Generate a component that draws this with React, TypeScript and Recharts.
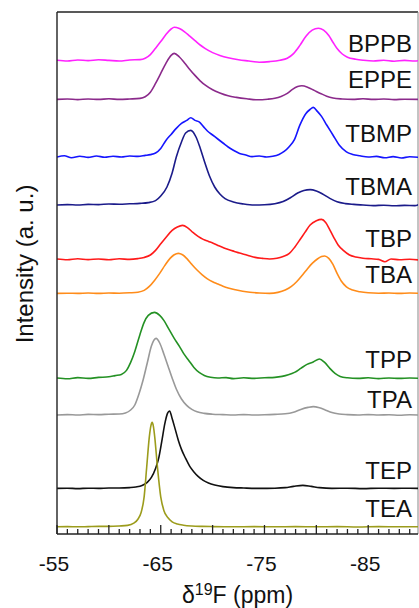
import { LineChart, Line, XAxis, YAxis, ReferenceLine } from 'recharts';

// 19F NMR spectra, stacked. Points are [ppm, intensity above own baseline]
const NAMES = ['BPPB', 'EPPE', 'TBMP', 'TBMA', 'TBP', 'TBA', 'TPP', 'TPA', 'TEP', 'TEA'];
const OFFSETS = [23.67, 21.73, 18.83, 16.45, 13.73, 12.03, 7.78, 5.95, 2.28, 0.36];
const TICK_LABELS = [-55, -65, -75, -85];

const BPPB = [[-55, 0.02], [-56, -0.02], [-57, 0.03], [-58, 0.0], [-59, 0.04], [-60, 0.01], [-61, -0.02], [-62, 0.03], [-63, 0.05], [-63.5, 0.12], [-64, 0.3], [-64.5, 0.62], [-65, 0.95], [-65.5, 1.3], [-66, 1.58], [-66.3, 1.67], [-66.8, 1.6], [-67.3, 1.44], [-67.8, 1.22], [-68.3, 1.0], [-68.8, 0.78], [-69.3, 0.6], [-70, 0.4], [-70.7, 0.26], [-71.5, 0.14], [-72.5, 0.04], [-73.5, -0.02], [-74.5, -0.08], [-75.5, -0.05], [-76.5, 0.02], [-77.2, 0.12], [-77.8, 0.35], [-78.4, 0.75], [-79, 1.22], [-79.6, 1.52], [-80.2, 1.62], [-80.7, 1.52], [-81.2, 1.25], [-81.6, 0.92], [-82, 0.6], [-82.5, 0.33], [-83, 0.17], [-83.8, 0.07], [-84.5, 0.02], [-85.5, -0.02], [-86.5, 0.02], [-87.5, -0.03], [-88.5, 0.01], [-89.5, -0.02], [-90, 0.0]];
const EPPE = [[-55, 0.0], [-56, 0.02], [-57, -0.01], [-58, 0.02], [-59, 0.0], [-60, 0.03], [-61, 0.0], [-62, 0.02], [-63, 0.05], [-63.5, 0.13], [-64, 0.36], [-64.5, 0.8], [-65, 1.3], [-65.5, 1.8], [-66, 2.2], [-66.3, 2.3], [-66.8, 2.12], [-67.3, 1.82], [-67.8, 1.5], [-68.3, 1.2], [-68.8, 0.93], [-69.3, 0.71], [-70, 0.48], [-70.7, 0.32], [-71.5, 0.18], [-72.3, 0.1], [-73.3, 0.03], [-74.3, -0.02], [-75.3, 0.01], [-76, 0.06], [-76.6, 0.15], [-77.2, 0.3], [-77.7, 0.5], [-78.2, 0.64], [-78.6, 0.68], [-79.2, 0.6], [-79.8, 0.45], [-80.4, 0.3], [-81, 0.16], [-81.6, 0.07], [-82.5, 0.02], [-83.5, 0.0], [-84.5, 0.03], [-85.5, 0.0], [-86.5, 0.02], [-87.5, -0.01], [-88.5, 0.01], [-90, 0.0]];
const TBMP = [[-55, 0.02], [-55.7, 0.08], [-56.4, -0.02], [-57.2, 0.06], [-58, 0.0], [-58.8, 0.07], [-59.6, 0.01], [-60.4, 0.06], [-61.2, 0.02], [-62, 0.07], [-62.8, 0.05], [-63.5, 0.1], [-64, 0.14], [-64.5, 0.22], [-65, 0.45], [-65.5, 0.85], [-66, 1.15], [-66.5, 1.45], [-67, 1.7], [-67.5, 1.85], [-67.9, 1.98], [-68.3, 1.85], [-68.7, 1.78], [-69.1, 1.55], [-69.5, 1.32], [-70, 1.12], [-70.5, 0.92], [-71, 0.72], [-71.5, 0.52], [-72, 0.36], [-72.6, 0.2], [-73.2, 0.12], [-73.8, 0.04], [-74.5, 0.07], [-75.2, 0.02], [-75.8, 0.06], [-76.4, 0.15], [-76.9, 0.3], [-77.4, 0.55], [-77.9, 0.9], [-78.4, 1.6], [-79, 2.2], [-79.4, 2.4], [-79.7, 2.5], [-80.1, 2.3], [-80.5, 2.05], [-81, 1.62], [-81.6, 1.12], [-82.2, 0.62], [-82.9, 0.28], [-83.5, 0.15], [-84.2, 0.08], [-85, 0.02], [-85.8, 0.05], [-86.6, -0.02], [-87.4, 0.04], [-88.2, -0.03], [-89, 0.03], [-90, 0.0]];
const TBMA = [[-55, 0.0], [-56, 0.02], [-57, 0.0], [-58, 0.03], [-59, 0.02], [-60, 0.05], [-61, 0.04], [-62, 0.06], [-63, 0.08], [-63.8, 0.12], [-64.5, 0.22], [-65, 0.45], [-65.6, 0.9], [-66.1, 1.6], [-66.5, 2.4], [-67, 3.15], [-67.4, 3.6], [-67.9, 3.73], [-68.4, 3.4], [-68.8, 2.85], [-69.2, 2.2], [-69.7, 1.45], [-70.2, 0.9], [-70.7, 0.55], [-71.2, 0.32], [-72, 0.15], [-73, 0.05], [-74, 0.0], [-75, 0.01], [-76, 0.06], [-76.8, 0.17], [-77.5, 0.36], [-78.2, 0.6], [-78.8, 0.73], [-79.4, 0.77], [-80, 0.7], [-80.6, 0.55], [-81.3, 0.33], [-82, 0.16], [-82.8, 0.07], [-83.6, 0.03], [-84.5, 0.0], [-85.5, -0.03], [-86.5, -0.01], [-87.5, -0.04], [-88.5, -0.02], [-89.5, -0.03], [-90, 0.06]];
const TBP = [[-55, 0.02], [-56, -0.02], [-57, 0.03], [-58, -0.01], [-59, 0.02], [-60, -0.02], [-61, 0.03], [-62, 0.0], [-62.8, 0.04], [-63.4, 0.1], [-64, 0.22], [-64.5, 0.45], [-65, 0.78], [-65.5, 1.1], [-66.1, 1.45], [-66.6, 1.62], [-67.1, 1.7], [-67.6, 1.58], [-68.1, 1.35], [-68.6, 1.15], [-69.1, 1.0], [-69.6, 0.9], [-70.1, 0.8], [-70.6, 0.68], [-71.1, 0.57], [-71.6, 0.48], [-72.1, 0.4], [-72.6, 0.32], [-73.1, 0.25], [-73.6, 0.17], [-74.1, 0.1], [-74.8, 0.05], [-75.5, 0.02], [-76.2, 0.06], [-76.8, 0.15], [-77.4, 0.3], [-77.9, 0.6], [-78.4, 0.97], [-78.9, 1.35], [-79.4, 1.72], [-80, 1.93], [-80.5, 2.0], [-80.9, 1.85], [-81.3, 1.48], [-81.7, 1.08], [-82.1, 0.72], [-82.6, 0.45], [-83.2, 0.22], [-83.8, 0.12], [-84.5, 0.06], [-85.3, 0.03], [-86, 0.0], [-86.6, -0.12], [-87.2, 0.02], [-88, -0.02], [-89, 0.01], [-90, -0.04]];
const TBA = [[-55, 0.0], [-56, 0.01], [-57, 0.0], [-58, 0.02], [-59, 0.0], [-60, 0.02], [-61, 0.01], [-62, 0.03], [-62.8, 0.06], [-63.4, 0.15], [-63.9, 0.35], [-64.4, 0.65], [-64.9, 1.0], [-65.4, 1.4], [-65.9, 1.75], [-66.3, 1.93], [-66.7, 2.0], [-67.1, 1.93], [-67.5, 1.75], [-68, 1.45], [-68.5, 1.17], [-69, 0.93], [-69.5, 0.73], [-70, 0.58], [-70.5, 0.47], [-71, 0.36], [-71.5, 0.27], [-72.2, 0.18], [-72.9, 0.11], [-73.6, 0.06], [-74.5, 0.02], [-75.5, 0.0], [-76.3, 0.05], [-77, 0.17], [-77.6, 0.35], [-78.1, 0.58], [-78.6, 0.88], [-79.1, 1.2], [-79.6, 1.5], [-80.1, 1.72], [-80.5, 1.84], [-80.8, 1.87], [-81.2, 1.75], [-81.6, 1.45], [-82, 1.0], [-82.4, 0.62], [-82.9, 0.33], [-83.5, 0.17], [-84.2, 0.08], [-85, 0.03], [-86, 0.01], [-87, 0.02], [-88, 0.0], [-89, 0.02], [-90, 0.0]];
const TPP = [[-55, 0.02], [-56, -0.02], [-57, 0.04], [-58, 0.0], [-59, 0.05], [-60, 0.08], [-60.6, 0.14], [-61.2, 0.2], [-61.7, 0.4], [-62.1, 0.8], [-62.5, 1.35], [-63, 2.2], [-63.4, 2.8], [-63.8, 3.15], [-64.4, 3.3], [-64.9, 3.15], [-65.3, 2.9], [-65.8, 2.45], [-66.3, 2.0], [-66.8, 1.6], [-67.2, 1.25], [-67.7, 0.9], [-68.2, 0.55], [-68.7, 0.3], [-69.2, 0.15], [-69.8, 0.06], [-70.5, 0.02], [-71.3, 0.04], [-72, -0.01], [-73, 0.03], [-74, 0.0], [-75, 0.03], [-76, 0.05], [-76.7, 0.1], [-77.3, 0.18], [-77.9, 0.3], [-78.5, 0.5], [-79.1, 0.7], [-79.7, 0.82], [-80.3, 0.97], [-80.8, 0.8], [-81.3, 0.5], [-81.8, 0.25], [-82.3, 0.1], [-83, 0.03], [-84, 0.0], [-85, 0.03], [-86, -0.01], [-87, 0.02], [-88, 0.0], [-89, 0.02], [-90, 0.0]];
const TPA = [[-55, 0.0], [-56, 0.02], [-57, 0.0], [-58, 0.03], [-59, 0.02], [-60, 0.04], [-61, 0.05], [-61.6, 0.1], [-62.1, 0.25], [-62.5, 0.5], [-62.9, 1.05], [-63.3, 1.75], [-63.7, 2.6], [-64.1, 3.45], [-64.55, 3.83], [-64.9, 3.6], [-65.3, 3.05], [-65.7, 2.45], [-66.1, 1.85], [-66.5, 1.3], [-67, 0.8], [-67.5, 0.48], [-68, 0.28], [-68.5, 0.16], [-69.2, 0.08], [-70, 0.04], [-71, 0.02], [-72, 0.0], [-73, 0.02], [-74, 0.0], [-75, 0.01], [-76, 0.03], [-77, 0.06], [-77.8, 0.14], [-78.5, 0.28], [-79.2, 0.38], [-79.7, 0.42], [-80.3, 0.36], [-80.9, 0.24], [-81.5, 0.12], [-82.2, 0.05], [-83, 0.02], [-84, 0.0], [-85, 0.02], [-86, 0.0], [-87, 0.01], [-88, -0.01], [-89, 0.01], [-90, 0.0]];
const TEP = [[-55, 0.0], [-56, 0.01], [-57, -0.01], [-58, 0.01], [-59, 0.0], [-60, 0.02], [-61, 0.02], [-62, 0.04], [-62.6, 0.07], [-63.2, 0.14], [-63.7, 0.3], [-64.1, 0.55], [-64.5, 1.0], [-64.8, 1.5], [-65.1, 2.35], [-65.4, 3.25], [-65.65, 3.75], [-65.85, 3.87], [-66.1, 3.5], [-66.4, 2.95], [-66.7, 2.4], [-67, 1.95], [-67.4, 1.5], [-67.8, 1.1], [-68.2, 0.82], [-68.6, 0.6], [-69.1, 0.4], [-69.6, 0.27], [-70.2, 0.17], [-71, 0.09], [-72, 0.04], [-73, 0.02], [-74.5, 0.0], [-76, 0.01], [-77, 0.04], [-77.8, 0.1], [-78.7, 0.15], [-79.5, 0.1], [-80.3, 0.04], [-81.5, 0.0], [-83, 0.01], [-84.5, -0.01], [-86, 0.01], [-87.5, 0.0], [-89, 0.01], [-90, 0.0]];
const TEA = [[-55, 0.0], [-56, 0.01], [-57, 0.0], [-58, 0.01], [-59, 0.02], [-60, 0.02], [-61, 0.04], [-61.8, 0.07], [-62.4, 0.18], [-62.8, 0.38], [-63.1, 0.7], [-63.4, 1.5], [-63.65, 3.0], [-63.9, 4.5], [-64.05, 5.05], [-64.17, 5.22], [-64.3, 5.0], [-64.42, 4.5], [-64.68, 3.0], [-65, 1.5], [-65.3, 0.82], [-65.7, 0.45], [-66.1, 0.25], [-66.6, 0.14], [-67.2, 0.08], [-68, 0.04], [-69, 0.02], [-70, 0.01], [-72, 0.0], [-74, 0.01], [-76, 0.0], [-78, 0.01], [-80, 0.0], [-82, 0.01], [-84, -0.01], [-86, 0.01], [-88, 0.0], [-90, 0.0]];

const SPECTRA = [BPPB, EPPE, TBMP, TBMA, TBP, TBA, TPP, TPA, TEP, TEA];

const COLORS = ['#ff22ff', '#8b2a8b', '#1515ff', '#1b1b8a', '#ff1a1a', '#ff8c1a', '#249124', '#999999', '#111111', '#9c9c1c'];
// label baselines in px (layout only)
const LABEL_BASE = [52, 88, 142, 195, 247, 283, 368, 408, 479, 517];

const FONT = '"Liberation Sans", Arial, sans-serif';
const X_MIN = -89.8;
const Y_MAX = 26.1;
const TICKS = Array.from({ length: 35 }, (_, i) => -55 - i);

const AxisTick = (props: any) => {
  const { x, y, payload } = props;
  const v = payload.value;
  const len = v % 5 === 0 ? 9 : 5;
  return (
    <g>
      <line x1={x} x2={x} y1={y} y2={y - len} stroke="#222" strokeWidth={1.3} />
      {TICK_LABELS.includes(v) && (
        <text x={x - 3} y={y + 37} textAnchor="middle" fontSize={21} fill="#111" fontFamily={FONT}>
          {v}
        </text>
      )}
    </g>
  );
};

const XLabel = (props: any) => {
  const { viewBox } = props;
  const cx = viewBox.x + viewBox.width / 2;
  return (
    <text x={cx} y={603} textAnchor="middle" fontSize={23} fill="#111" fontFamily={FONT}>
      δ
      <tspan fontSize={16} dy={-8}>19</tspan>
      <tspan dy={8}>F (ppm)</tspan>
    </text>
  );
};

const YLabel = (props: any) => {
  const { viewBox } = props;
  const cy = viewBox.y + 252;
  return (
    <text
      transform={`translate(33, ${cy}) rotate(-90)`}
      textAnchor="middle"
      fontSize={24}
      fill="#111"
      fontFamily={FONT}
    >
      Intensity (a. u.)
    </text>
  );
};

export default function App() {
  const series = SPECTRA.map((pts, i) => pts.map(([x, h]) => ({ x, y: OFFSETS[i] + h })));

  return (
    <div style={{ position: 'absolute', left: 0, top: 0, width: 419, height: 608, overflow: 'hidden', background: '#fff' }}>
      <LineChart width={419} height={608} margin={{ top: 12, right: 1, left: 0, bottom: 0 }}>
        <XAxis
          type="number"
          dataKey="x"
          domain={[X_MIN, -55]}
          allowDataOverflow
          reversed
          ticks={TICKS}
          interval={0}
          tick={<AxisTick />}
          tickLine={false}
          tickSize={0}
          tickMargin={0}
          height={74}
          axisLine={{ stroke: '#222', strokeWidth: 1.4 }}
          label={<XLabel />}
        />
        <YAxis
          type="number"
          domain={[0, Y_MAX]}
          allowDataOverflow
          width={57}
          tick={false}
          tickLine={false}
          axisLine={{ stroke: '#222', strokeWidth: 1.4 }}
          label={<YLabel />}
        />
        <ReferenceLine y={Y_MAX} stroke="#222" strokeWidth={1.4} />
        <ReferenceLine x={X_MIN} stroke="#888" strokeWidth={1} />
        {series.map((data, i) => (
          <Line
            key={NAMES[i]}
            data={data}
            dataKey="y"
            type="monotone"
            stroke={COLORS[i]}
            strokeWidth={1.6}
            dot={false}
            isAnimationActive={false}
          />
        ))}
      </LineChart>
      {NAMES.map((name, i) => (
        <div
          key={name}
          style={{
            position: 'absolute',
            right: 7,
            top: LABEL_BASE[i] - 20.5,
            fontSize: 24,
            lineHeight: '24px',
            fontFamily: FONT,
            color: '#111',
          }}
        >
          {name}
        </div>
      ))}
    </div>
  );
}
